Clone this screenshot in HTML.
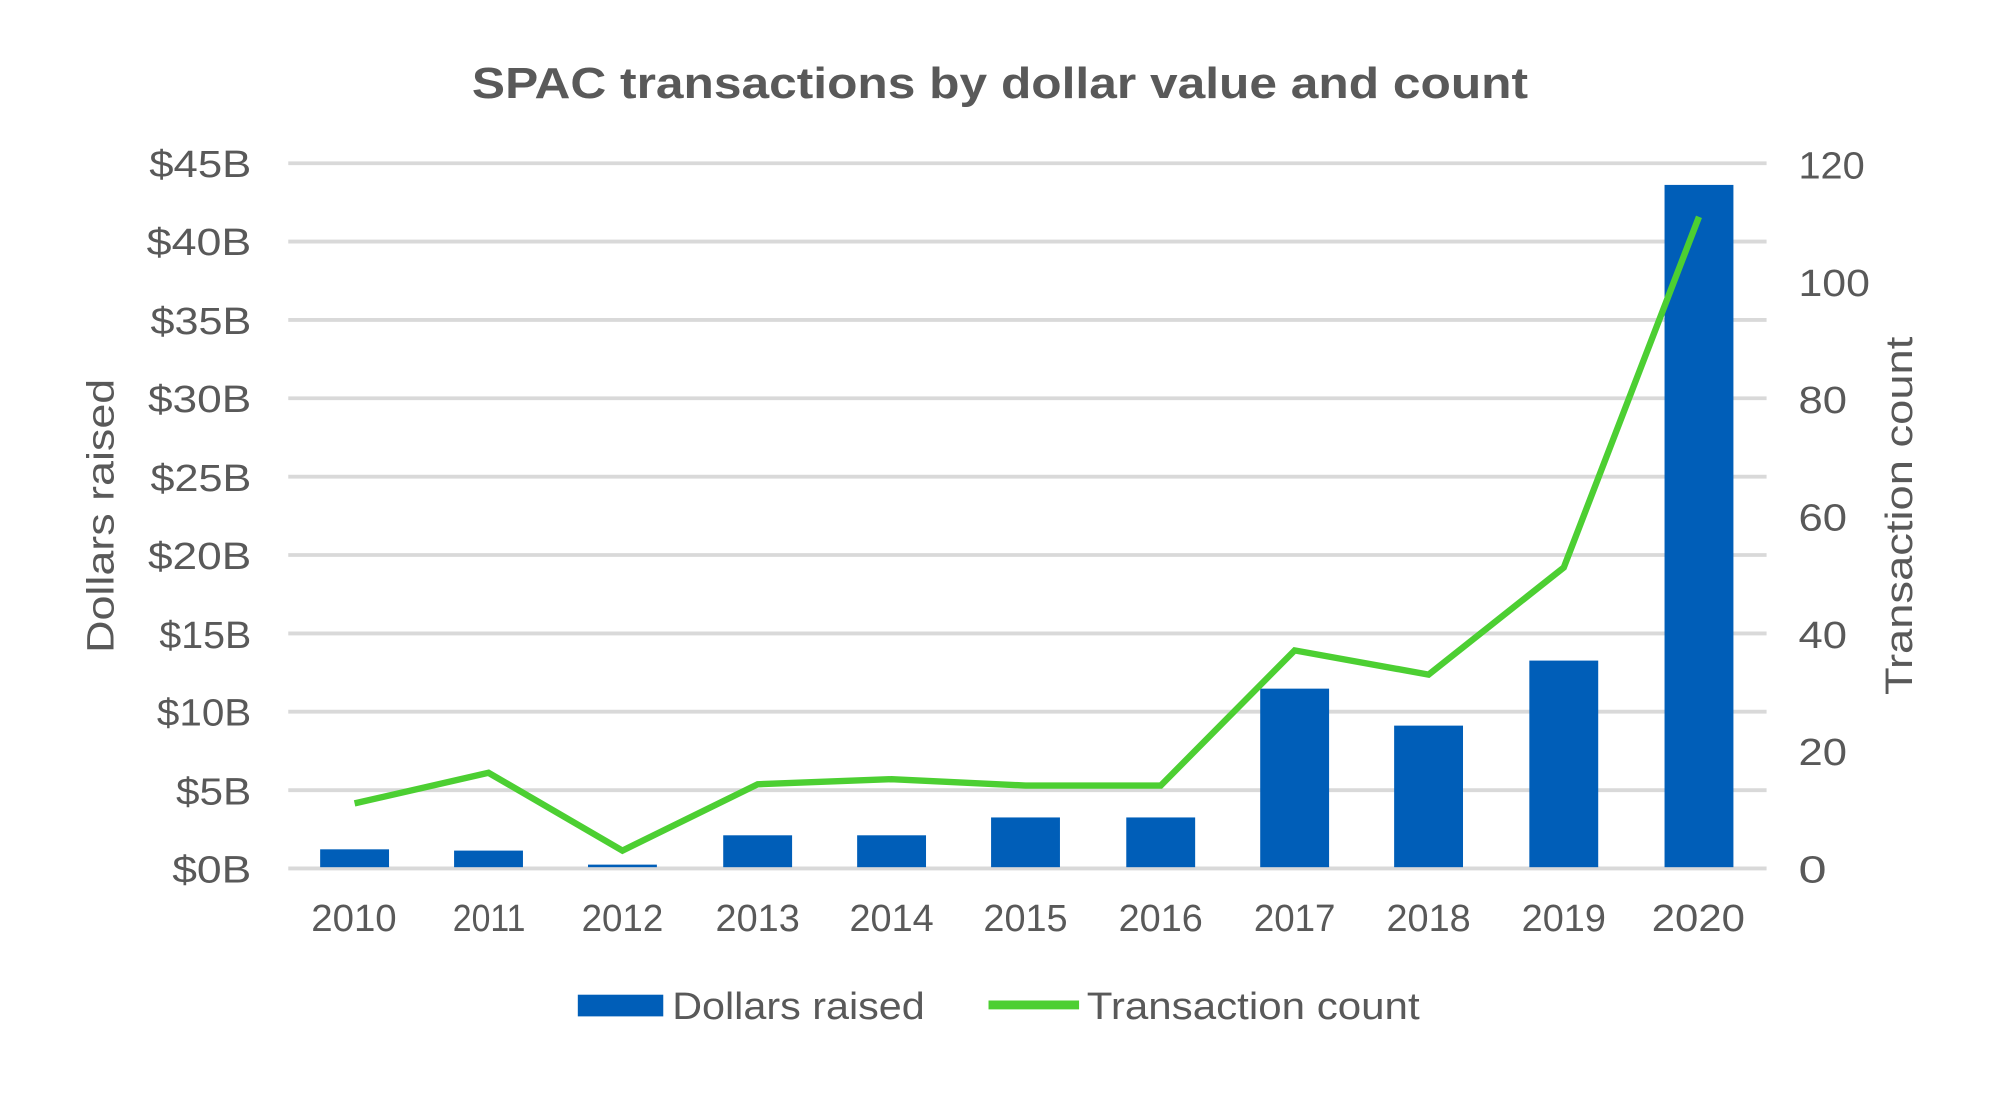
<!DOCTYPE html>
<html><head><meta charset="utf-8"><style>
html,body{margin:0;padding:0;background:#fff;}
svg{display:block;}
text{font-family:"Liberation Sans",sans-serif;fill:#595959;}
</style></head><body>
<svg width="2000" height="1098" viewBox="0 0 1568 861" preserveAspectRatio="none" xmlns="http://www.w3.org/2000/svg">
<rect width="1568" height="861" fill="#fff"/>
<text x="370" y="77" font-size="34" font-weight="bold" fill="#555" textLength="828" lengthAdjust="spacingAndGlyphs">SPAC transactions by dollar value and count</text>
<g stroke="#d9d9d9" stroke-width="3">
<line x1="226" x2="1385" y1="128" y2="128"/>
<line x1="226" x2="1385" y1="189.4" y2="189.4"/>
<line x1="226" x2="1385" y1="250.9" y2="250.9"/>
<line x1="226" x2="1385" y1="312.3" y2="312.3"/>
<line x1="226" x2="1385" y1="373.8" y2="373.8"/>
<line x1="226" x2="1385" y1="435.2" y2="435.2"/>
<line x1="226" x2="1385" y1="496.7" y2="496.7"/>
<line x1="226" x2="1385" y1="558.1" y2="558.1"/>
<line x1="226" x2="1385" y1="619.6" y2="619.6"/>
<line x1="226" x2="1385" y1="681" y2="681"/>
</g>
<g font-size="30" lengthAdjust="spacingAndGlyphs">
<text x="117" y="139" textLength="80" lengthAdjust="spacingAndGlyphs">$45B</text>
<text x="115" y="200" textLength="82" lengthAdjust="spacingAndGlyphs">$40B</text>
<text x="118" y="262" textLength="79" lengthAdjust="spacingAndGlyphs">$35B</text>
<text x="116" y="323" textLength="81" lengthAdjust="spacingAndGlyphs">$30B</text>
<text x="118" y="385" textLength="79" lengthAdjust="spacingAndGlyphs">$25B</text>
<text x="116" y="446" textLength="81" lengthAdjust="spacingAndGlyphs">$20B</text>
<text x="125" y="508" textLength="72" lengthAdjust="spacingAndGlyphs">$15B</text>
<text x="123" y="569" textLength="74" lengthAdjust="spacingAndGlyphs">$10B</text>
<text x="138" y="631" textLength="59" lengthAdjust="spacingAndGlyphs">$5B</text>
<text x="135" y="692" textLength="62" lengthAdjust="spacingAndGlyphs">$0B</text>
</g>
<g font-size="30">
<text x="1410" y="140" textLength="52" lengthAdjust="spacingAndGlyphs">120</text>
<text x="1410" y="232" textLength="56" lengthAdjust="spacingAndGlyphs">100</text>
<text x="1410" y="324" textLength="38" lengthAdjust="spacingAndGlyphs">80</text>
<text x="1410" y="416" textLength="38" lengthAdjust="spacingAndGlyphs">60</text>
<text x="1410" y="508" textLength="38" lengthAdjust="spacingAndGlyphs">40</text>
<text x="1410" y="600" textLength="38" lengthAdjust="spacingAndGlyphs">20</text>
<text x="1410" y="692" textLength="22" lengthAdjust="spacingAndGlyphs">0</text>
</g>
<text transform="translate(89,512) rotate(-90)" font-size="30" textLength="215" lengthAdjust="spacingAndGlyphs">Dollars raised</text>
<text transform="translate(1499,545) rotate(-90)" font-size="30" textLength="281" lengthAdjust="spacingAndGlyphs">Transaction count</text>
<g fill="#005EB8">
<rect x="251" y="666" width="54" height="14"/>
<rect x="356" y="667" width="54" height="13"/>
<rect x="461" y="678" width="54" height="2"/>
<rect x="567" y="655" width="54" height="25"/>
<rect x="672" y="655" width="54" height="25"/>
<rect x="777" y="641" width="54" height="39"/>
<rect x="883" y="641" width="54" height="39"/>
<rect x="988" y="540" width="54" height="140"/>
<rect x="1093" y="569" width="54" height="111"/>
<rect x="1199" y="518" width="54" height="162"/>
<rect x="1305" y="145" width="54" height="535"/>
</g>
<polyline fill="none" stroke="#4CCF32" stroke-width="5" stroke-linejoin="miter" points="278,630 383,606 488,667 594,615 699,611 804,616 910,616 1015,510 1120,529 1226,445 1332,170"/>
<g font-size="30">
<text x="244" y="730" textLength="67" lengthAdjust="spacingAndGlyphs">2010</text>
<text x="355" y="730" textLength="57" lengthAdjust="spacingAndGlyphs">2011</text>
<text x="456" y="730" textLength="64" lengthAdjust="spacingAndGlyphs">2012</text>
<text x="561" y="730" textLength="66" lengthAdjust="spacingAndGlyphs">2013</text>
<text x="666" y="730" textLength="66" lengthAdjust="spacingAndGlyphs">2014</text>
<text x="771" y="730" textLength="66" lengthAdjust="spacingAndGlyphs">2015</text>
<text x="877" y="730" textLength="66" lengthAdjust="spacingAndGlyphs">2016</text>
<text x="983" y="730" textLength="64" lengthAdjust="spacingAndGlyphs">2017</text>
<text x="1087" y="730" textLength="66" lengthAdjust="spacingAndGlyphs">2018</text>
<text x="1193" y="730" textLength="66" lengthAdjust="spacingAndGlyphs">2019</text>
<text x="1295" y="730" textLength="73" lengthAdjust="spacingAndGlyphs">2020</text>
</g>
<rect x="453" y="780" width="67" height="17" fill="#005EB8"/>
<text x="527" y="799" font-size="30" textLength="198" lengthAdjust="spacingAndGlyphs">Dollars raised</text>
<line x1="775" x2="846" y1="788" y2="788" stroke="#4CCF32" stroke-width="7"/>
<text x="852" y="799" font-size="30" textLength="261" lengthAdjust="spacingAndGlyphs">Transaction count</text>
</svg>
</body></html>
